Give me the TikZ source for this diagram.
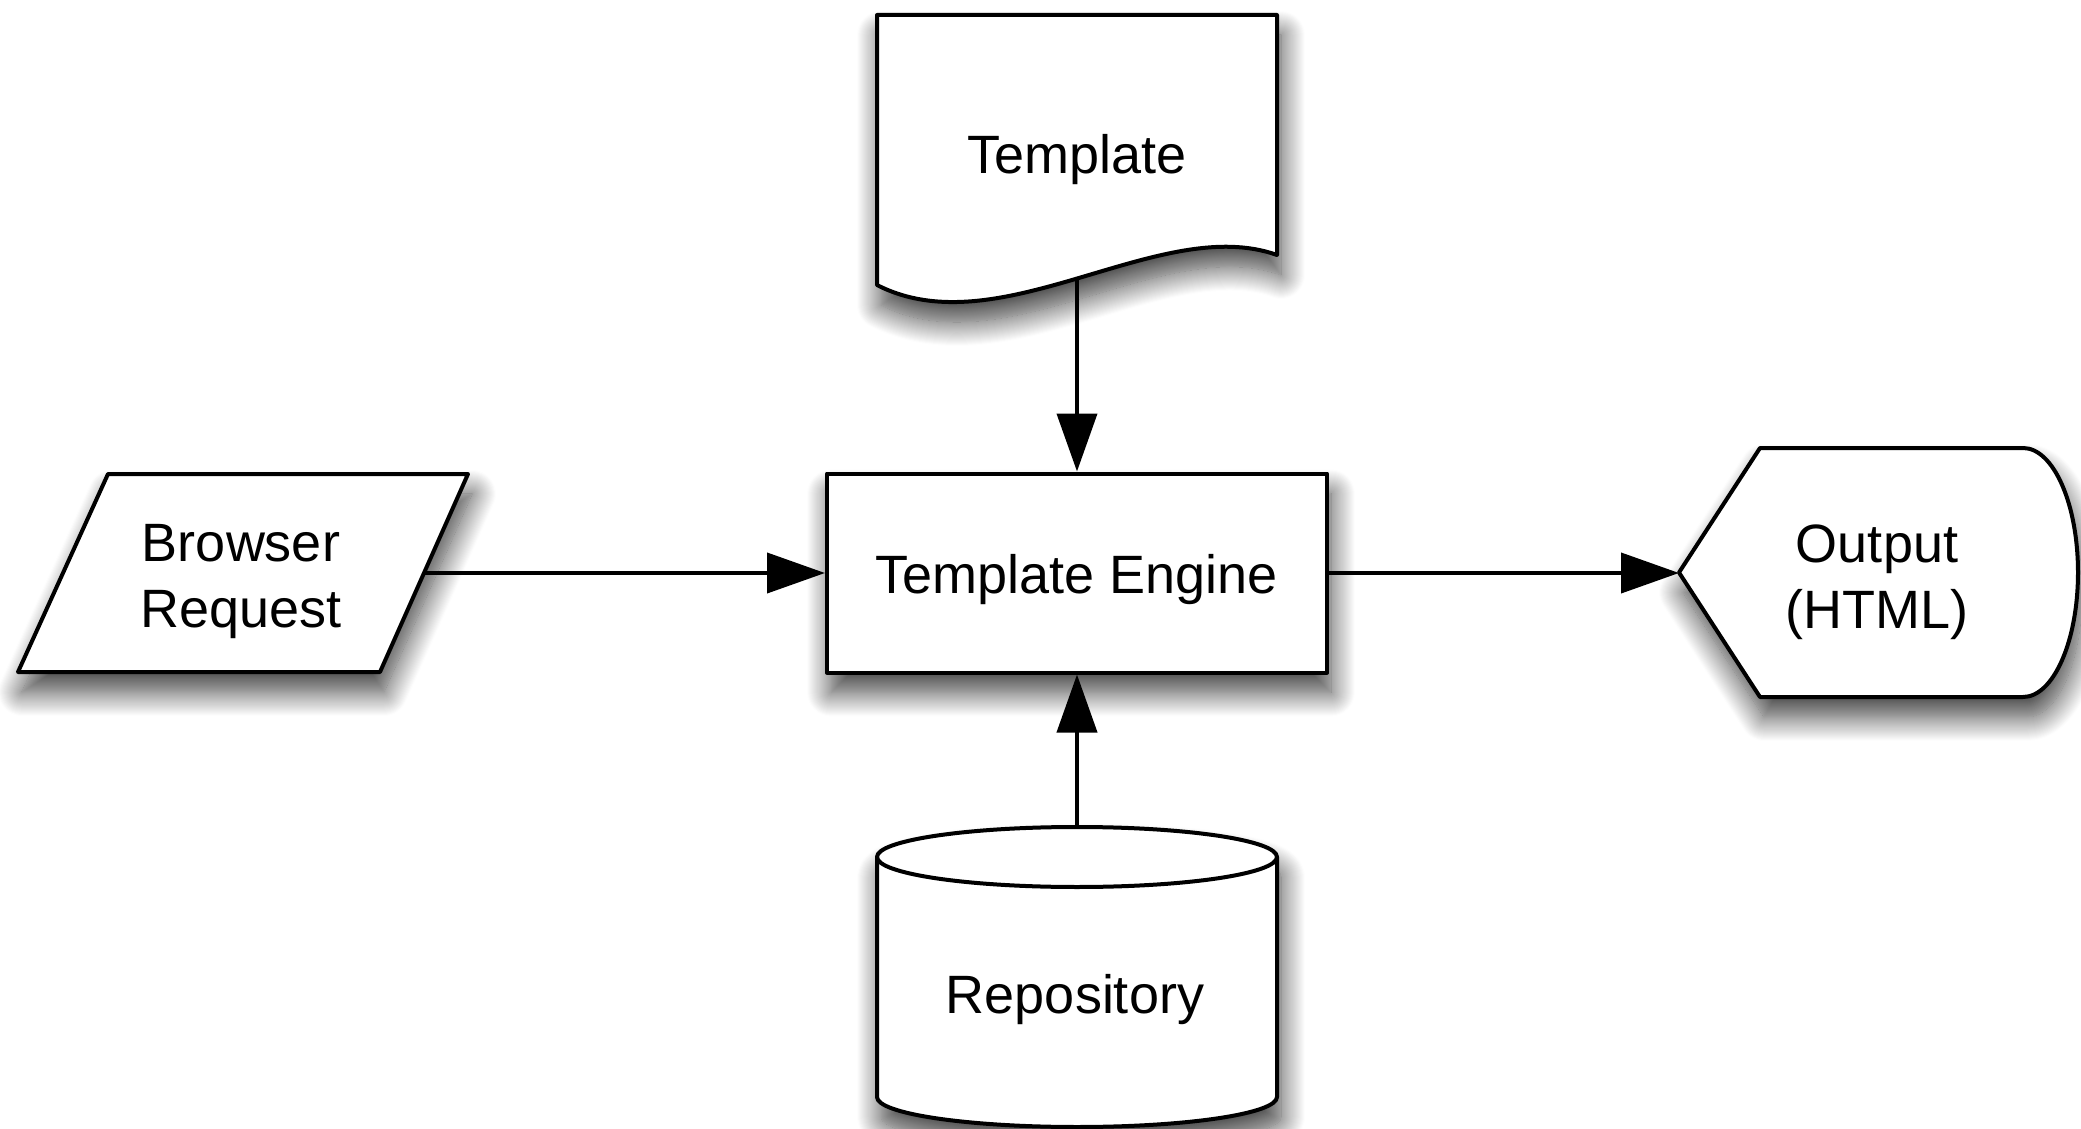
\documentclass[tikz,border=0pt]{standalone}
\usepackage{fontspec}
\setmainfont{Liberation Sans}
\usetikzlibrary{arrows.meta}
\usetikzlibrary{shadows.blur}

\begin{document}
\begin{tikzpicture}[
            x=0.25pt,
            y=0.25pt,
            shape line/.style={
                draw=black,
                fill=white,
                line width=1pt,
                line join=round,
                blur shadow={shadow xshift=1pt, shadow yshift=-5pt, shadow blur radius=6pt, shadow blur steps=24, shadow opacity=75}
            },
            txt/.style={
                align=center,
                inner sep=0pt,
                font=\fontsize{13.5pt}{16.5pt}\selectfont
            },
            flow/.style={
                line width=1pt,
                -{Triangle[length=14.5pt, width=10pt, fill=black]}
            }
        ]
        \useasboundingbox (0,0) rectangle (2081,1128);
        \draw[shape line] (877,1113) -- (1277,1113) -- (1277,873)
            .. controls (1160,915) and (1000,780) .. (877,843) -- cycle;
        \node[txt] (tpl) at (1077,968) {Template};
        \coordinate (tpl-b) at (1077,850);
        \node[shape line, txt, text height=13pt, text depth=2.8pt, minimum width=125pt, minimum height=49.75pt] (engine) at (1077,555) {Template Engine};
        \draw[shape line] (108,654) -- (468,654) -- (380,456) -- (18,456) -- cycle;
        \node[txt] (req) at (241,546) {Browser\\Request};
        \coordinate (req-r) at (424,555);
        \draw[shape line] (1679,555.5) -- (1760,680) -- (2023,680)
            arc[start angle=90, end angle=-90, x radius=55, y radius=124.5] -- (1760,431) -- cycle;
        \node[txt] (out) at (1877,546) {Output\\(HTML)};
        \coordinate (out-l) at (1679,555);
        \draw[shape line] (877,271) -- (877,31) arc[start angle=180, end angle=360, x radius=200, y radius=30]
            -- (1277,271) arc[start angle=0, end angle=180, x radius=200, y radius=30] -- cycle;
        \draw[line width=1pt] (877,271) arc[start angle=180, end angle=360, x radius=200, y radius=30];
        \node[txt] (repo) at (1075,128) {Repository};
        \coordinate (repo-t) at (1077,301);
        \draw[flow] (tpl-b) -- (engine.north);
        \draw[flow] (repo-t) -- (engine.south);
        \draw[flow] (req-r) -- (engine.west);
        \draw[flow] (engine.east) -- (out-l);
        \end{tikzpicture}
\end{document}
